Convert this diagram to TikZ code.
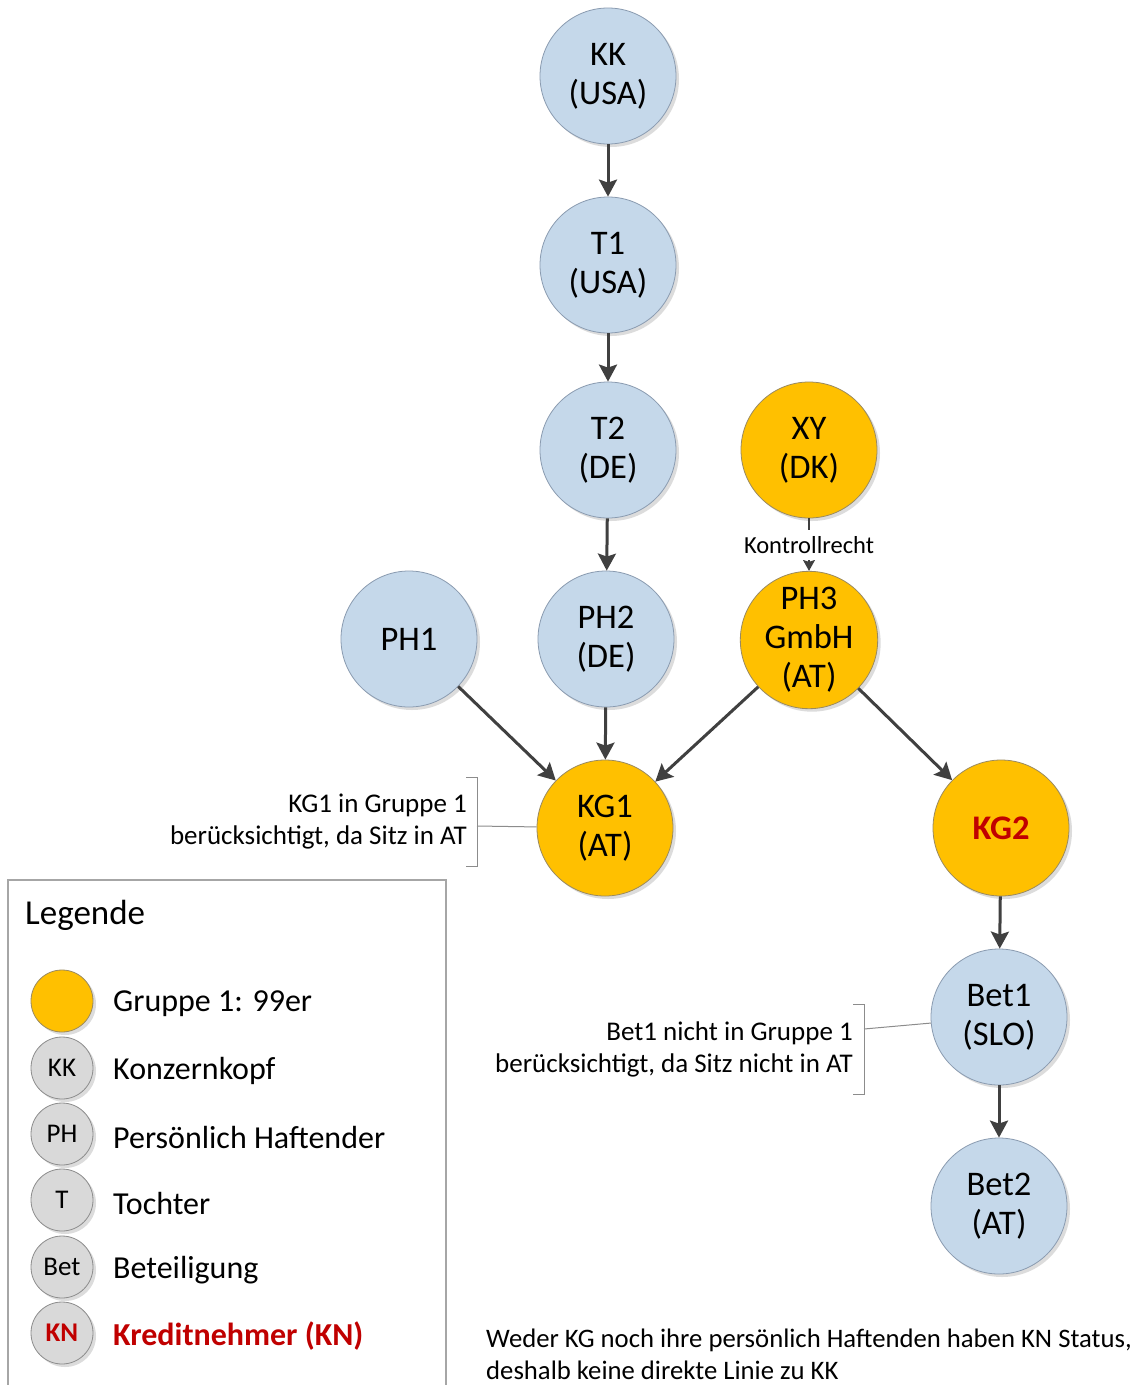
\documentclass[tikz,border=0pt]{standalone}
\usepackage{fontspec}
\setmainfont{Carlito}
\usetikzlibrary{arrows.meta,shadows}
\definecolor{cblue}{HTML}{C5D8EA}
\definecolor{cblueb}{HTML}{8A9BB0}
\definecolor{corange}{HTML}{FFC000}
\definecolor{corangeb}{HTML}{9A8A60}
\definecolor{cgray}{HTML}{D9D9D9}
\definecolor{cgrayb}{HTML}{8C8C8C}
\definecolor{cred}{HTML}{C00000}
\definecolor{carrow}{HTML}{404040}
\tikzset{
  shad/.style={drop shadow={shadow xshift=3pt,shadow yshift=-3pt,opacity=.3,fill=black!45}},
  bluecirc/.style={circle,shad,fill=cblue,draw=cblueb,line width=.8pt,minimum size=136pt,inner sep=0pt,align=center,font=\fontsize{34.5}{39}\selectfont},
  orcirc/.style={bluecirc,fill=corange,draw=corangeb},
  legcirc/.style={circle,shad,fill=cgray,draw=cgrayb,line width=.8pt,minimum size=62pt,inner sep=0pt,font=\fontsize{27}{30}\selectfont},
  legtext/.style={anchor=west,inner sep=0pt,yshift=-3pt,font=\fontsize{32}{38}\selectfont},
  anntext/.style={inner sep=0pt,align=right,font=\fontsize{27}{32}\selectfont},
  conn/.style={draw=carrow,line width=3pt,-{Stealth[length=17pt,width=18pt,inset=3pt]}},
  thinconn/.style={draw=carrow,line width=1.8pt,-{Stealth[length=11pt,width=12pt,inset=2pt]}},
  bracket/.style={draw=black!45,line width=1pt},
}
\begin{document}
\begin{tikzpicture}[x=1pt,y=-1pt]
\useasboundingbox (0,0) rectangle (1141,1385);
\fill[white] (0,0) rectangle (1141,1385);
% main nodes
\node[bluecirc] (kk) at (608,76) {KK\\(USA)};
\node[bluecirc] (t1) at (608,265) {T1\\(USA)};
\node[bluecirc] (t2) at (608,450) {T2\\(DE)};
\node[orcirc] (xy) at (809,450) {XY\\(DK)};
\node[bluecirc] (ph1) at (409,639) {PH1};
\node[bluecirc] (ph2) at (606,639) {PH2\\(DE)};
\node[orcirc] (ph3) at (809,640) {PH3\\GmbH\\(AT)};
\node[orcirc] (kg1) at (605,828) {KG1\\(AT)};
\node[orcirc,font=\fontsize{34.5}{39}\selectfont\bfseries,text=cred] (kg2) at (1001,828) {KG2};
\node[bluecirc] (bet1) at (999,1017) {Bet1\\(SLO)};
\node[bluecirc] (bet2) at (999,1206) {Bet2\\(AT)};
% connectors
\draw[conn] (kk) -- (t1);
\draw[conn] (t1) -- (t2);
\draw[conn] (t2) -- (ph2);
\draw[conn] (ph1) -- (kg1);
\draw[conn] (ph2) -- (kg1);
\draw[conn] (ph3) -- (kg1);
\draw[conn] (ph3) -- (kg2);
\draw[conn] (kg2) -- (bet1);
\draw[conn] (bet1) -- (bet2);
\draw[thinconn] (xy) -- (ph3) node[midway,fill=white,inner xsep=2pt,minimum height=30pt,font=\fontsize{24.5}{28}\selectfont] (kr) {Kontrollrecht};
% annotations
\node[anntext,anchor=east] (ann1) at (467,822) {KG1 in Gruppe 1\\berücksichtigt, da Sitz in AT};
\draw[bracket] (466,777) -- (477,777) -- (477,866) -- (466,866);
\coordinate (br1) at (477,826);
\draw[bracket] (br1) -- (kg1);
\node[anntext,anchor=east] (ann2) at (853,1049) {Bet1 nicht in Gruppe 1\\berücksichtigt, da Sitz nicht in AT};
\draw[bracket] (853,1004) -- (864,1004) -- (864,1094) -- (853,1094);
\coordinate (br2) at (864,1029);
\draw[bracket] (br2) -- (bet1);
% bottom note
\node[anntext,align=left,anchor=west,font=\fontsize{26.7}{32}\selectfont] (note) at (486,1354) {Weder KG noch ihre persönlich Haftenden haben KN Status,\\deshalb keine direkte Linie zu KK};
% legend
\draw[black!35,line width=1.2pt] (8,1390) -- (8,880) -- (446,880) -- (446,1390);
\node[anchor=west,inner sep=0pt,font=\fontsize{35}{40}\selectfont] (legtitle) at (25,915) {Legende};
\node[legcirc,fill=corange,draw=corangeb] (lg1) at (62,1001) {};
\node[legcirc] (lg2) at (62,1068) {KK};
\node[legcirc] (lg3) at (62,1134) {PH};
\node[legcirc] (lg4) at (62,1200) {T};
\node[legcirc] (lg5) at (62,1267) {Bet};
\node[legcirc,text=cred,font=\fontsize{27}{30}\selectfont\bfseries] (lg6) at (62,1333) {KN};
\node[legtext] (lt1) at (113,1001) {Gruppe 1: 99er};
\node[legtext] (lt2) at (113,1068) {Konzernkopf};
\node[legtext] (lt3) at (113,1134) {Persönlich Haftender};
\node[legtext] (lt4) at (113,1200) {Tochter};
\node[legtext] (lt5) at (113,1267) {Beteiligung};
\node[legtext,text=cred,font=\fontsize{32}{38}\selectfont\bfseries] (lt6) at (113,1333) {Kreditnehmer (KN)};
\end{tikzpicture}
\end{document}
